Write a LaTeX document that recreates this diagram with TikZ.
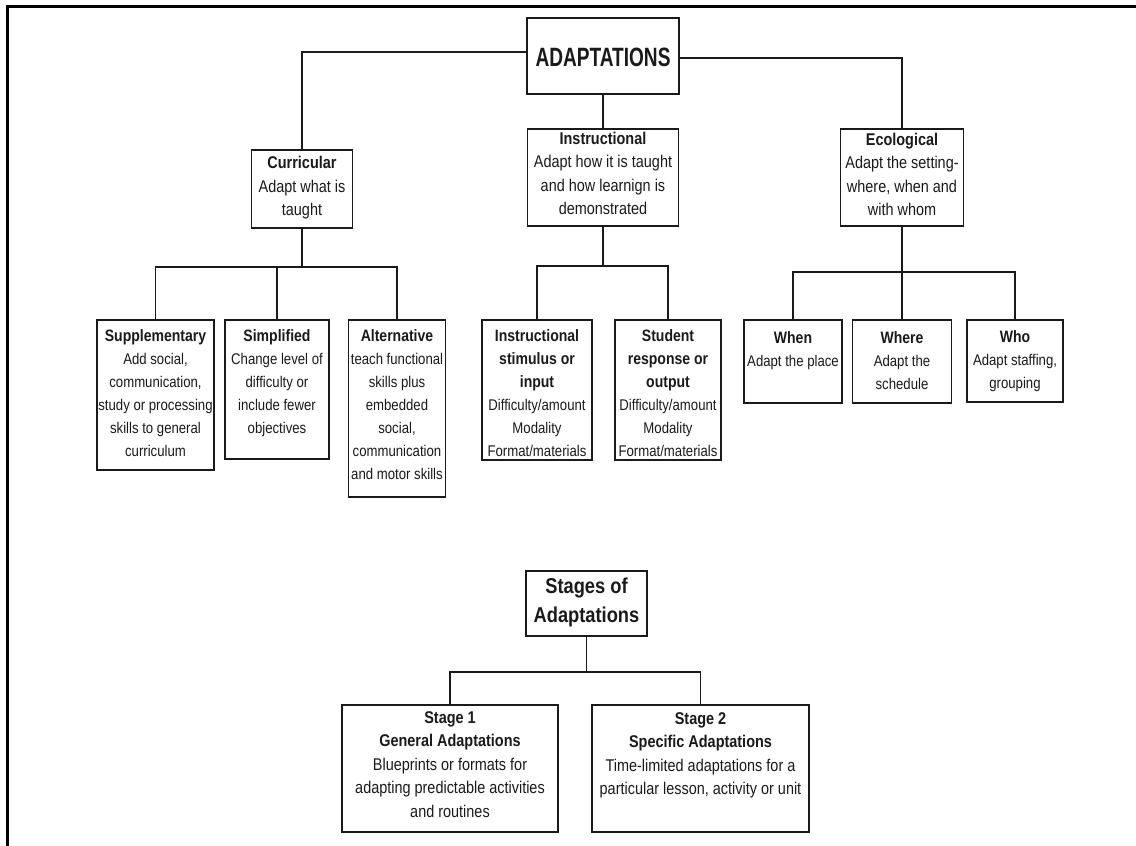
\documentclass[tikz,border=0pt]{standalone}
\usepackage{fontspec}
\setmainfont[FakeStretch=0.85]{Liberation Sans}
\newfontfamily\bigf[FakeStretch=0.72]{Liberation Sans}
\definecolor{ink}{HTML}{1A1A1A}
\newcommand{\ttlsm}[1]{{\fontsize{16.5}{23}\selectfont\bfseries #1}}
\newcommand{\ttlmd}[1]{{\fontsize{17}{23.5}\selectfont\bfseries #1}}
\tikzset{
  bx/.style={draw=ink, line width=1.9pt, inner sep=0pt, fill=none},
  ln/.style={draw=ink, line width=1.9pt},
  frm/.style={draw=black, line width=3pt},
  smtxt/.style={font=\fontsize{15.5}{23}\selectfont, align=center, inner sep=0pt, text=ink, anchor=north},
  mdtxt/.style={font=\fontsize{17}{23.5}\selectfont, align=center, inner sep=0pt, text=ink},
  bigtxt/.style={font=\fontsize{26.5}{30}\bigf\bfseries, inner sep=0pt, text=ink},
  sttxt/.style={font=\fontsize{21.5}{29}\selectfont\bfseries, align=center, inner sep=0pt, text=ink}
}
\begin{document}
\begin{tikzpicture}[x=1pt,y=-1pt]
\useasboundingbox (0,0) rectangle (1136,846);
\fill[white] (0,0) rectangle (1136,846);
\draw[frm] (7.5,846) -- (7.5,6) -- (1136,6);

% top level
\node[bx, minimum width=152pt, minimum height=76pt] (adapt) at (603,56) {};
\node[bigtxt] (adapt-t) at ([yshift=-1pt]adapt.center) {ADAPTATIONS};

\node[bx, minimum width=101pt, minimum height=78pt] (curr) at (302,189) {};
\node[mdtxt] (curr-t) at ([yshift=1pt]curr.center) {\ttlmd{Curricular}\\Adapt what is\\taught};

\node[bx, minimum width=151pt, minimum height=97pt] (instr) at (603,177.5) {};
\node[mdtxt] (instr-t) at ([yshift=4pt]instr.center) {\ttlmd{Instructional}\\Adapt how it is taught\\and how learnign is\\demonstrated};

\node[bx, minimum width=123pt, minimum height=97pt] (eco) at (902,177.5) {};
\node[mdtxt] (eco-t) at ([yshift=3pt]eco.center) {\ttlmd{Ecological}\\Adapt the setting-\\where, when and\\with whom};

% curricular children
\node[bx, minimum width=117pt, minimum height=150pt] (supp) at (155.5,395) {};
\node[smtxt] (supp-t) at ([yshift=-10pt]supp.north) {\ttlsm{Supplementary}\\Add social,\\communication,\\study or processing\\skills to general\\curriculum};
\node[bx, minimum width=104pt, minimum height=139pt] (simp) at (277,389.5) {};
\node[smtxt] (simp-t) at ([yshift=-10pt]simp.north) {\ttlsm{Simplified}\\Change level of\\difficulty or\\include fewer\\objectives};
\node[bx, minimum width=97pt, minimum height=177pt] (alt) at (397,408.5) {};
\node[smtxt] (alt-t) at ([yshift=-10pt]alt.north) {\ttlsm{Alternative}\\teach functional\\skills plus\\embedded\\social,\\communication\\and motor skills};

% instructional children
\node[bx, minimum width=110pt, minimum height=140pt] (stim) at (537,390) {};
\node[smtxt] (stim-t) at ([yshift=-10pt]stim.north) {\ttlsm{Instructional}\\\ttlsm{stimulus or}\\\ttlsm{input}\\Difficulty/amount\\Modality\\Format/materials};
\node[bx, minimum width=106pt, minimum height=140pt] (resp) at (668,390) {};
\node[smtxt] (resp-t) at ([yshift=-10pt]resp.north) {\ttlsm{Student}\\\ttlsm{response or}\\\ttlsm{output}\\Difficulty/amount\\Modality\\Format/materials};

% ecological children
\node[bx, minimum width=98pt, minimum height=83pt] (when) at (793,361.5) {};
\node[smtxt] (when-t) at ([yshift=-12pt]when.north) {\ttlsm{When}\\Adapt the place};
\node[bx, minimum width=99pt, minimum height=83pt] (where) at (902,361.5) {};
\node[smtxt] (where-t) at ([yshift=-12pt]where.north) {\ttlsm{Where}\\Adapt the\\schedule};
\node[bx, minimum width=96pt, minimum height=82pt] (who) at (1015,361) {};
\node[smtxt] (who-t) at ([yshift=-11pt]who.north) {\ttlsm{Who}\\Adapt staffing,\\grouping};

% stages
\node[bx, minimum width=121pt, minimum height=65pt] (stages) at (586.5,603.5) {};
\node[sttxt] (stages-t) at ([yshift=1pt]stages.center) {Stages of\\Adaptations};
\node[bx, minimum width=216pt, minimum height=127pt] (st1) at (450,768.5) {};
\node[mdtxt, anchor=north] (st1-t) at ([yshift=-7pt]st1.north) {\ttlmd{Stage 1}\\\ttlmd{General Adaptations}\\Blueprints or formats for\\adapting predictable activities\\and routines};
\node[bx, minimum width=217pt, minimum height=127pt] (st2) at (700.5,768.5) {};
\node[mdtxt, anchor=north] (st2-t) at ([yshift=-8pt]st2.north) {\ttlmd{Stage 2}\\\ttlmd{Specific Adaptations}\\Time-limited adaptations for a\\particular lesson, activity or unit};

% connectors top
\draw[ln] ([yshift=4pt]adapt.west) -| (curr.north);
\draw[ln] ([yshift=-2pt]adapt.east) -| (eco.north);
\draw[ln] (adapt.south) -- (instr.north);

% curricular bar
\coordinate (cbar) at (302,267);
\draw[ln] (curr.south) -- (cbar);
\draw[ln] (supp.north) |- (cbar) -| (alt.north);
\draw[ln] (simp.north) -- (simp.north |- cbar);

% instructional bar
\coordinate (ibar) at (603,266);
\draw[ln] (instr.south) -- (ibar);
\draw[ln] (stim.north) |- (ibar) -| (resp.north);

% ecological bar
\coordinate (ebar) at (902,272);
\draw[ln] (eco.south) -- (ebar);
\draw[ln] (when.north) |- (ebar) -| (who.north);
\draw[ln] (where.north) -- (where.north |- ebar);

% stages bar
\coordinate (sbar) at (586.5,672);
\draw[ln] (stages.south) -- (sbar);
\draw[ln] (st1.north) |- (sbar) -| (st2.north);
\end{tikzpicture}
\end{document}
